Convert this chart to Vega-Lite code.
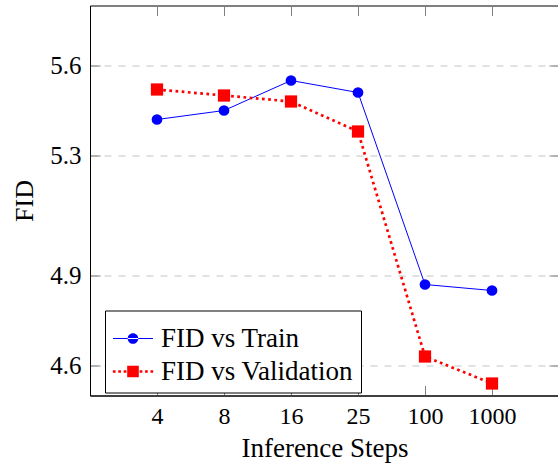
{
  "$schema": "https://vega.github.io/schema/vega-lite/v6.json",
  "width": 469,
  "height": 390,
  "autosize": {"type": "none"},
  "padding": {"left": 90, "top": 5.5, "right": 0, "bottom": 68.5},
  "background": "white",
  "config": {
    "view": {"stroke": "black", "strokeWidth": 1},
    "font": "Liberation Serif",
    "axis": {"labelFont": "Liberation Serif", "titleFont": "Liberation Serif", "labelColor": "black", "titleColor": "black", "titleFontWeight": "normal"},
    "legend": {"labelFont": "Liberation Serif"}
  },
  "data": {
    "values": [
      {"step": "4", "series": "FID vs Train", "fid": 5.42},
      {"step": "8", "series": "FID vs Train", "fid": 5.45},
      {"step": "16", "series": "FID vs Train", "fid": 5.55},
      {"step": "25", "series": "FID vs Train", "fid": 5.51},
      {"step": "100", "series": "FID vs Train", "fid": 4.87},
      {"step": "1000", "series": "FID vs Train", "fid": 4.85},
      {"step": "4", "series": "FID vs Validation", "fid": 5.52},
      {"step": "8", "series": "FID vs Validation", "fid": 5.50},
      {"step": "16", "series": "FID vs Validation", "fid": 5.48},
      {"step": "25", "series": "FID vs Validation", "fid": 5.38},
      {"step": "100", "series": "FID vs Validation", "fid": 4.63},
      {"step": "1000", "series": "FID vs Validation", "fid": 4.54}
    ]
  },
  "encoding": {
    "x": {
      "field": "step", "type": "ordinal",
      "sort": ["4", "8", "16", "25", "100", "1000"],
      "scale": {"type": "point", "padding": 1},
      "axis": null
    },
    "y": {
      "field": "fid", "type": "quantitative",
      "scale": {"domain": [4.5, 5.8], "nice": false, "zero": false},
      "axis": null
    },
    "color": {
      "field": "series", "type": "nominal",
      "scale": {"domain": ["FID vs Train", "FID vs Validation"], "range": ["#0000ff", "#ff0000"]},
      "legend": null
    }
  },
  "layer": [
    {
      "transform": [{"filter": "datum.series === 'FID vs Train'"}],
      "mark": {"type": "line", "strokeWidth": 1},
      "encoding": {
        "x": {
          "field": "step", "type": "ordinal",
          "sort": ["4", "8", "16", "25", "100", "1000"],
          "scale": {"type": "point", "padding": 1},
          "axis": {
            "orient": "bottom", "title": "Inference Steps", "titleFontSize": 27, "titlePadding": 7,
            "labelFontSize": 24, "labelAngle": 0, "labelPadding": 19,
            "domainColor": "black", "tickColor": "#808080", "tickSize": -10, "grid": false
          }
        },
        "y": {
          "field": "fid", "type": "quantitative",
          "scale": {"domain": [4.5, 5.8], "nice": false, "zero": false},
          "axis": {
            "orient": "left", "title": "FID", "titleFontSize": 26, "titlePadding": 12,
            "values": [4.6, 4.9, 5.3, 5.6], "format": ".1f",
            "labelFontSize": 25, "labelPadding": 19,
            "domainColor": "black", "tickColor": "#808080", "tickSize": -10,
            "grid": true, "gridColor": "#c4c4c4", "gridDash": [7, 7], "gridWidth": 1
          }
        },
        "color": {
          "field": "series", "type": "nominal",
          "scale": {"domain": ["FID vs Train", "FID vs Validation"], "range": ["#0000ff", "#ff0000"]},
          "legend": {
            "title": null, "orient": "none", "legendX": 15, "legendY": 305,
            "direction": "vertical",
            "labelFontSize": 27, "labelColor": "black", "labelOffset": 8, "labelLimit": 0,
            "symbolSize": 1600, "rowPadding": -13,
            "padding": 8, "fillColor": "white", "strokeColor": "black",
            "encode": {
              "symbols": {
                "update": {
                  "shape": {"signal": "datum.value === 'FID vs Train' ? 'M-1,-0.03H1V0.03H-1Z M-0.265,0A0.265,0.265 0 1,0 0.265,0A0.265,0.265 0 1,0 -0.265,0Z' : 'M-1.008,-0.068h0.136v0.136h-0.136Z M-0.738,-0.068h0.136v0.136h-0.136Z M-0.468,-0.068h0.136v0.136h-0.136Z M0.332,-0.068h0.136v0.136h-0.136Z M0.602,-0.068h0.136v0.136h-0.136Z M0.872,-0.068h0.136v0.136h-0.136Z M-0.29,-0.29H0.29V0.29H-0.29Z'"},
                  "fill": {"signal": "datum.value === 'FID vs Train' ? '#0000ff' : '#ff0000'"},
                  "stroke": {"value": "transparent"},
                  "strokeWidth": {"value": 0},
                  "opacity": {"value": 1},
                  "fillOpacity": {"value": 1}
                }
              }
            }
          }
        }
      }
    },
    {
      "transform": [{"filter": "datum.series === 'FID vs Validation'"}],
      "mark": {"type": "line", "strokeWidth": 2.7, "strokeDash": [2.7, 3.5]}
    },
    {
      "transform": [{"filter": "datum.series === 'FID vs Train'"}],
      "mark": {"type": "point", "filled": true, "opacity": 1, "shape": "circle", "size": 115}
    },
    {
      "transform": [{"filter": "datum.series === 'FID vs Validation'"}],
      "mark": {"type": "point", "filled": true, "opacity": 1, "shape": "square", "size": 150}
    },
    {
      "mark": {"type": "point", "opacity": 0},
      "encoding": {
        "x": {
          "field": "step", "type": "ordinal",
          "sort": ["4", "8", "16", "25", "100", "1000"],
          "scale": {"type": "point", "padding": 1},
          "axis": {"orient": "top", "title": null, "labels": false, "domain": false, "tickColor": "#808080", "tickSize": -10, "grid": false}
        },
        "y": {
          "field": "fid", "type": "quantitative",
          "scale": {"domain": [4.5, 5.8], "nice": false, "zero": false},
          "axis": {"orient": "right", "title": null, "labels": false, "domain": false, "values": [4.6, 4.9, 5.3, 5.6], "tickColor": "#808080", "tickSize": -10, "grid": false}
        }
      }
    }
  ],
  "resolve": {"axis": {"x": "independent", "y": "independent"}}
}
